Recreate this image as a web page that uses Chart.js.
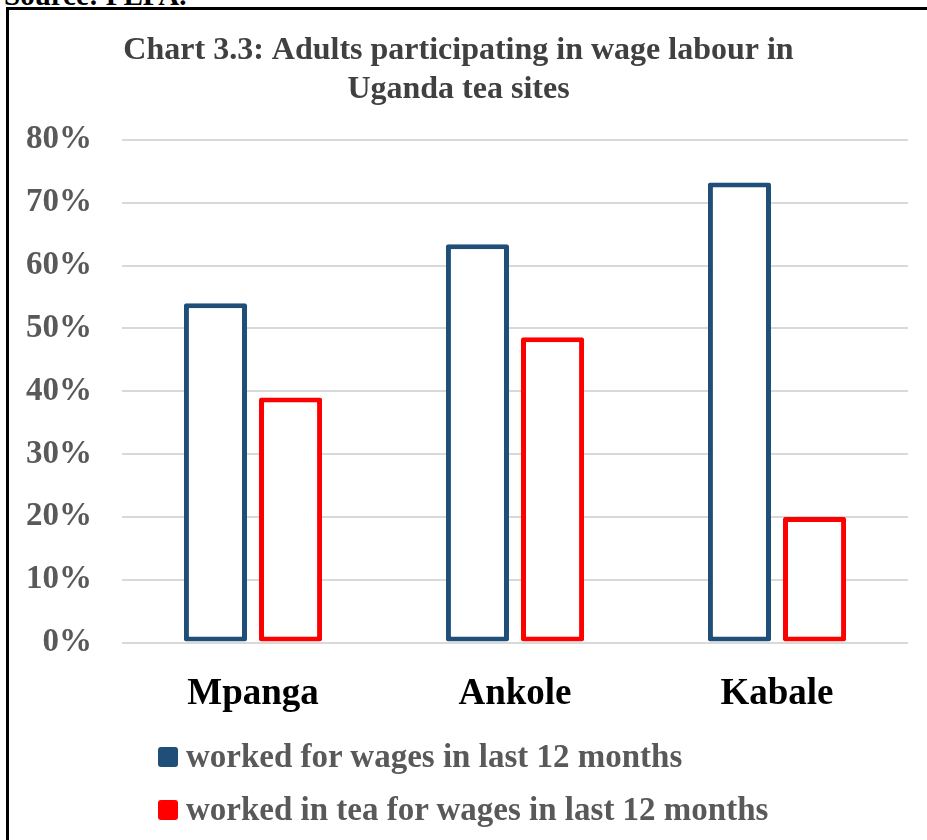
<!DOCTYPE html>
<html>
<head>
<meta charset="utf-8">
<script src="https://cdn.jsdelivr.net/npm/chart.js@4"></script>
<style>
  body { margin: 0; background: #fff; width: 927px; height: 840px; overflow: hidden; position: relative; }
  #source { position: absolute; left: 4px; top: -21px; font: bold 29px "Liberation Serif", serif; color: #000; }
  #frame { position: absolute; left: 6px; top: 7px; width: 940px; height: 860px; border-left: 3px solid #000; border-top: 3px solid #000; }
  #wrap { position: absolute; left: 9px; top: 10px; width: 918px; height: 734px; }
  #legenda { position: absolute; left: 158px; top: 730px; font: bold 33px "Liberation Serif", serif; color: #595959; }
  .item { display: flex; align-items: center; height: 53px; }
  .box { width: 20px; height: 20px; border-radius: 3px; margin-right: 8px; }
</style>
</head>
<body>
<div id="source">Source: FLFA.</div>
<div id="frame"></div>
<div id="wrap"><canvas id="grafico"></canvas></div>
<div id="legenda"></div>
<script>
const categorias = ['Mpanga', 'Ankole', 'Kabale'];
const trabalhouSalario = [0.54, 0.634, 0.732];
const trabalhouCha = [0.39, 0.486, 0.2];
const nomesSeries = ['worked for wages in last 12 months', 'worked in tea for wages in last 12 months'];
const coresSeries = ['#1F4E79', '#FF0000'];

const serif = '"Liberation Serif", serif';

// legenda montada em HTML para ficar alinhada à esquerda
const legenda = document.getElementById('legenda');
nomesSeries.forEach((nome, i) => {
    const div = document.createElement('div');
    div.className = 'item';
    div.innerHTML = `<span class="box" style="background:${coresSeries[i]}"></span>${nome}`;
    legenda.appendChild(div);
});

function serie(label, valores, cor) {
    return {
        label: label,
        data: valores,
        backgroundColor: '#fff',
        borderColor: cor,
        borderWidth: 5,
        borderSkipped: false,
        borderRadius: 2,
        categoryPercentage: 0.573,
        barPercentage: 0.84
    };
}

const ctx = document.getElementById('grafico').getContext('2d');
new Chart(ctx, {
    type: 'bar',
    data: {
        labels: categorias,
        datasets: [
            serie(nomesSeries[0], trabalhouSalario, coresSeries[0]),
            serie(nomesSeries[1], trabalhouCha, coresSeries[1])
        ]
    },
    options: {
        responsive: true,
        maintainAspectRatio: false,
        animation: false,
        layout: { padding: { left: 0, right: 19, top: 10, bottom: 5 } },
        plugins: {
            legend: { display: false },
            tooltip: { enabled: false },
            title: {
                display: true,
                text: ['Chart 3.3: Adults participating in wage labour in', 'Uganda tea sites'],
                color: '#404040',
                font: { family: serif, size: 32, weight: 'bold' },
                lineHeight: 1.17,
                padding: { top: 12, bottom: 31 }
            }
        },
        scales: {
            y: {
                min: 0,
                max: 0.8,
                border: { display: false },
                grid: { color: '#d9d9d9', lineWidth: 2, drawTicks: false },
                afterFit: function(scale) { scale.width = 113; },
                ticks: {
                    stepSize: 0.1,
                    padding: 30,
                    color: '#595959',
                    font: { family: serif, size: 33, weight: 'bold' },
                    callback: v => Math.round(v * 100) + '%'
                }
            },
            x: {
                border: { display: false },
                grid: { display: false },
                ticks: {
                    padding: 22,
                    color: '#000',
                    font: { family: serif, size: 37, weight: 'bold' }
                }
            }
        }
    }
});
</script>
</body>
</html>
